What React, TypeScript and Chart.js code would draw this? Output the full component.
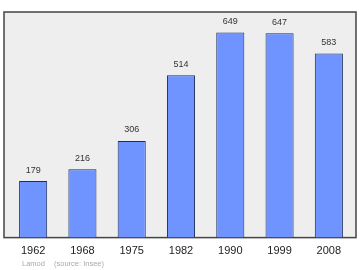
import React, { useEffect, useRef } from "react";
import { Chart, registerables } from "chart.js";

Chart.register(...registerables);

const years = ["1962", "1968", "1975", "1982", "1990", "1999", "2008"];
const population = [179, 216, 306, 514, 649, 647, 583];
const sourceAuthor = "Lamod";
const sourceText = "(source: Insee)";

const FONT = "'Liberation Sans', Arial, sans-serif";

const framePlugin = {
  id: "frame",
  beforeDatasetsDraw(chart: any) {
    const { ctx, chartArea } = chart;
    const l = chartArea.left - 4.5;
    const r = chartArea.right + 2.5;
    ctx.save();
    ctx.fillStyle = "#eeeeee";
    ctx.fillRect(l, chartArea.top, r - l, chartArea.bottom - chartArea.top);
    ctx.strokeStyle = "#444444";
    ctx.lineWidth = 1.5;
    ctx.strokeRect(l, chartArea.top, r - l, chartArea.bottom - chartArea.top);
    ctx.restore();
  },
  afterDatasetsDraw(chart: any) {
    const { ctx, chartArea } = chart;
    const meta = chart.getDatasetMeta(0);
    ctx.save();
    ctx.font = `9px ${FONT}`;
    ctx.fillStyle = "#333333";
    ctx.textAlign = "center";
    ctx.textBaseline = "middle";
    meta.data.forEach((bar: any, i: number) => {
      ctx.fillText(String(population[i]), bar.x, bar.y - 11);
    });
    ctx.font = `7.5px ${FONT}`;
    ctx.fillStyle = "#aaaaaa";
    ctx.textAlign = "left";
    ctx.fillText(sourceAuthor, chartArea.left + 13.5, chartArea.bottom + 26);
    ctx.fillText(sourceText, chartArea.left + 45.5, chartArea.bottom + 26);
    ctx.restore();
  },
};

export default function App() {
  const ref = useRef<HTMLCanvasElement | null>(null);
  useEffect(() => {
    if (!ref.current) return;
    const chart = new Chart(ref.current, {
      type: "bar",
      data: {
        labels: years,
        datasets: [
          {
            data: population,
            backgroundColor: "#6f94ff",
            borderColor: "#1c2d5e",
            borderWidth: 1,
            barPercentage: 0.57,
            categoryPercentage: 1,
          },
        ],
      },
      options: {
        animation: false,
        responsive: false,
        maintainAspectRatio: false,
        layout: { padding: { left: 8.5, right: 6.5, top: 12, bottom: 6.4 } },
        plugins: { legend: { display: false }, tooltip: { enabled: false } },
        scales: {
          x: {
            grid: { display: false, drawTicks: false },
            border: { display: false },
            ticks: {
              color: "#222222",
              font: { family: FONT, size: 11 },
              padding: 6.4,
              maxRotation: 0,
            },
          },
          y: { display: false, min: 0, max: 714 },
        },
      },
      plugins: [framePlugin],
    });
    return () => chart.destroy();
  }, []);
  return (
    <div style={{ position: "fixed", left: 0, top: 0, width: 360, height: 270, background: "#fff" }}>
      <canvas ref={ref} width={360} height={270} style={{ display: "block" }} />
    </div>
  );
}
